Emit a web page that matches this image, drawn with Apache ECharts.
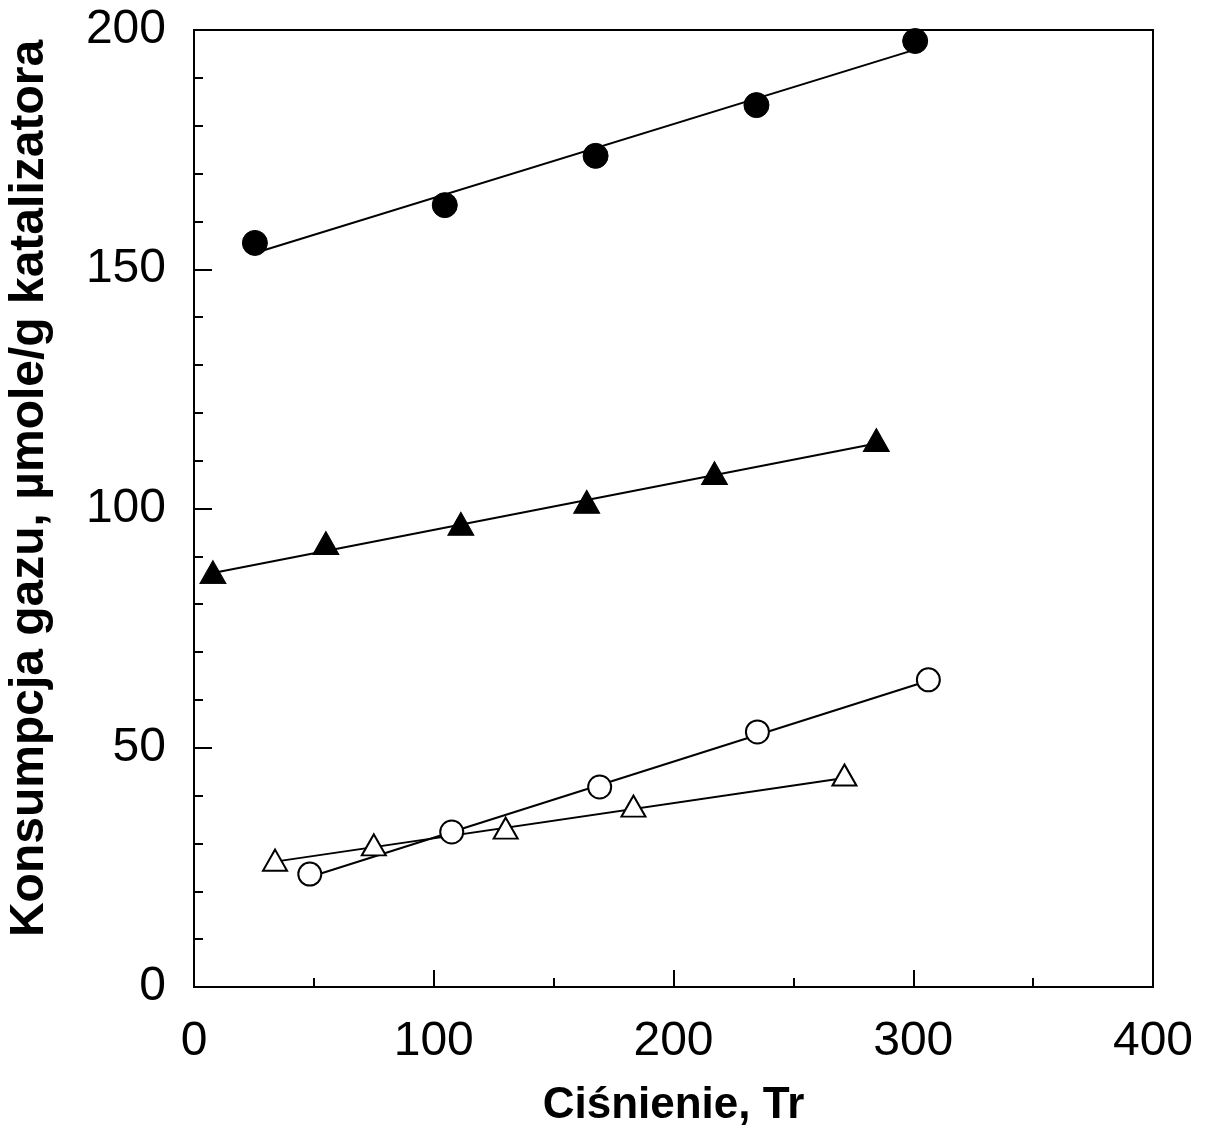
<!DOCTYPE html>
<html>
<head>
<meta charset="utf-8">
<script src="https://cdn.jsdelivr.net/npm/echarts@6/dist/echarts.min.js"></script>
<style>
  html, body { margin: 0; padding: 0; background: #fff; }
  #chart { width: 1208px; height: 1147px; }
</style>
</head>
<body>
<div id="chart"></div>
<script>
// Gas uptake vs. pressure for four catalyst samples
const xTicks = [0, 100, 200, 300, 400];
const yTicks = [0, 50, 100, 150, 200];

// Measured points: [pressure Tr, uptake µmol/g]
const filledCircles = [[25.4, 155.5], [104.6, 163.4], [167.5, 173.7], [234.6, 184.3], [300.8, 197.7]];
const filledTriangles = [[7.9, 86.7], [55.0, 92.8], [111.3, 96.8], [163.8, 101.4], [217.1, 107.4], [284.6, 114.3]];
const openCircles = [[48.3, 23.6], [107.5, 32.4], [169.2, 41.8], [235.0, 53.3], [306.3, 64.2]];
const openTriangles = [[33.8, 26.5], [75.0, 29.7], [130.0, 33.2], [183.3, 37.8], [271.3, 44.3]];

// Straight trend lines (end points)
const fitFilledCircles = [[25.4, 153.4], [300.8, 195.9]];
const fitFilledTriangles = [[7.9, 86.5], [284.6, 113.6]];
const fitOpenCircles = [[48.3, 23.0], [306.3, 64.0]];
const fitOpenTriangles = [[33.8, 26.2], [271.3, 43.7]];

const FONT = '"Liberation Sans", Arial, sans-serif';

function fitLine(data) {
  return {
    type: 'line', data: data, showSymbol: false, silent: true, z: 2,
    lineStyle: { color: '#000', width: 2 }
  };
}
function markers(data, symbol, size, filled) {
  return {
    type: 'scatter', data: data, symbol: symbol, symbolSize: size, z: 5,
    itemStyle: filled
      ? { color: '#000', borderColor: '#000', borderWidth: 1, opacity: 1 }
      : { color: '#fff', borderColor: '#000', borderWidth: 2, opacity: 1 }
  };
}

const chart = echarts.init(document.getElementById('chart'), null, { renderer: 'canvas' });
chart.setOption({
  backgroundColor: '#fff',
  animation: false,
  grid: {
    left: 194, right: 55, top: 30, bottom: 160,
    containLabel: false, outerBoundsMode: 'none',
    show: true, borderColor: '#000', borderWidth: 2, backgroundColor: 'transparent'
  },
  xAxis: {
    type: 'value', min: xTicks[0], max: xTicks[xTicks.length - 1], interval: 100,
    name: 'Ciśnienie, Tr', nameLocation: 'middle', nameGap: 97,
    nameTextStyle: { fontFamily: FONT, fontWeight: 'bold', fontSize: 44, color: '#000' },
    axisLine: { show: true, onZero: false, lineStyle: { color: '#000', width: 2 } },
    axisTick: { show: true, inside: true, length: 17, lineStyle: { color: '#000', width: 2 } },
    minorTick: { show: true, splitNumber: 2, length: 9, lineStyle: { color: '#000', width: 2 } },
    splitLine: { show: false },
    axisLabel: { color: '#000', fontFamily: FONT, fontSize: 48, margin: 31 }
  },
  yAxis: {
    type: 'value', min: yTicks[0], max: yTicks[yTicks.length - 1], interval: 50,
    name: 'Konsumpcja gazu, µmole/g katalizatora', nameLocation: 'middle', nameGap: 140,
    nameTextStyle: { fontFamily: FONT, fontWeight: 'bold', fontSize: 48, color: '#000', padding: [0, 0, 0, 40] },
    axisLine: { show: true, onZero: false, lineStyle: { color: '#000', width: 2 } },
    axisTick: { show: true, inside: true, length: 18, lineStyle: { color: '#000', width: 2 } },
    minorTick: { show: true, splitNumber: 5, length: 9, lineStyle: { color: '#000', width: 2 } },
    splitLine: { show: false },
    axisLabel: { color: '#000', fontFamily: FONT, fontSize: 48, margin: 28 }
  },
  series: [
    fitLine(fitFilledCircles),
    fitLine(fitFilledTriangles),
    fitLine(fitOpenCircles),
    fitLine(fitOpenTriangles),
    markers(filledCircles, 'circle', 25, true),
    markers(filledTriangles, 'triangle', [26, 23], true),
    markers(openCircles, 'circle', 23, false),
    markers(openTriangles, 'triangle', [24, 21], false)
  ]
});
</script>
</body>
</html>
